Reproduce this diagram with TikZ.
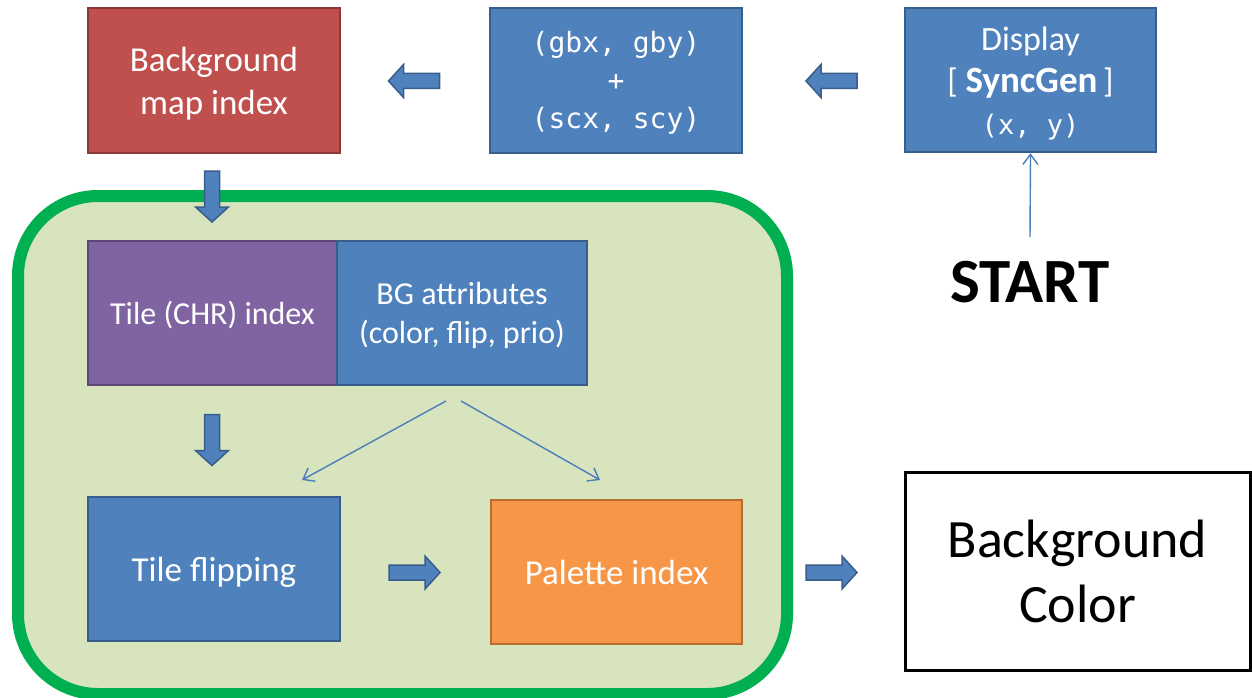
\documentclass[tikz,border=0pt]{standalone}
\usepackage{fontspec}
\setmainfont{Carlito}
\newfontfamily\monof{DejaVu Sans Mono}
\usetikzlibrary{arrows.meta}
\newcommand\mystrut{\rule[-0.25em]{0pt}{1.2em}}
\definecolor{bfill}{HTML}{4F81BD}
\definecolor{bdraw}{HTML}{385D8A}
\definecolor{rfill}{HTML}{C0504D}
\definecolor{rdraw}{HTML}{8C3836}
\definecolor{pfill}{HTML}{8064A2}
\definecolor{pdraw}{HTML}{5C4776}
\definecolor{ofill}{HTML}{F79646}
\definecolor{odraw}{HTML}{B66D31}
\definecolor{gline}{HTML}{00B050}
\definecolor{gfill}{HTML}{D7E4BD}
\definecolor{tcol}{HTML}{4A7EBB}
\tikzset{
  box/.style={rectangle, line width=2.5pt, text=white, align=center, inner sep=0pt,
    font=\fontsize{35}{43}\selectfont},
  bluebox/.style={box, fill=bfill, draw=bdraw},
  redbox/.style={box, fill=rfill, draw=rdraw},
  purplebox/.style={box, fill=pfill, draw=pdraw},
  orangebox/.style={box, fill=ofill, draw=odraw},
  thinarr/.style={draw=tcol, line width=1.4pt, -{Straight Barb[length=10pt,width=15pt]}},
  fatarrow/.pic={\draw[fill=bfill, draw=bdraw, line width=1.5pt]
    (-25.5,-7.5) -- (10.5,-7.5) -- (10.5,-16.5) -- (25.5,0) -- (10.5,16.5)
    -- (10.5,7.5) -- (-25.5,7.5) -- cycle;}
}
\begin{document}
\begin{tikzpicture}[x=1pt,y=-1pt]
\useasboundingbox (0,0) rectangle (1252,698);
% group frame
\draw[draw=gline, fill=gfill, line width=12pt, rounded corners=80pt] (18,196) rectangle (787,694);
% top row
\node[redbox, minimum width=252pt, minimum height=145pt] (bgmap) at (214,80.5) {\mystrut Background\\map index\mystrut};
\node[bluebox, minimum width=252pt, minimum height=145pt,
  font=\monof\fontsize{28}{38}\selectfont] (gbx) at (616,80.5) {\rule{0pt}{26pt}(gbx, gby)\\+\\(scx, scy)};
\node[bluebox, minimum width=251pt, minimum height=144pt,
  font=\fontsize{34}{42}\selectfont] (disp) at (1030.5,80)
  {\mystrut Display\\{[} {\fontsize{37}{42}\selectfont\bfseries SyncGen}\,]\\{\monof\fontsize{27}{42}\selectfont (x, y)\mystrut}};
\node[inner sep=0pt, font=\fontsize{63}{70}\selectfont\bfseries] (start) at (1030,282.5) {START};
\coordinate (sa) at (1030,237);
\draw[thinarr] (sa) -- (disp.south);
% inside frame
\node[purplebox, minimum width=249pt, minimum height=144pt,
  font=\fontsize{32}{39}\selectfont] (tile) at (212.5,313) {\mystrut Tile (CHR) index};
\node[bluebox, minimum width=250pt, minimum height=144pt,
  font=\fontsize{32}{39}\selectfont] (attr) at (462,313) {\mystrut BG attributes\\(color, flip, prio)\mystrut};
\node[bluebox, minimum width=252pt, minimum height=144pt] (flip) at (214,569) {\mystrut Tile flipping};
\node[orangebox, minimum width=251pt, minimum height=144pt] (pal) at (616.5,572) {\mystrut Palette index};
\node[rectangle, draw=black, fill=white, line width=3pt, minimum width=345pt, minimum height=198pt,
  align=center, inner sep=0pt, font=\fontsize{54}{65}\selectfont] (bgcol) at (1077.5,571) {Background\\Color};
\coordinate (s1) at (446,401);
\coordinate (s2) at (461,401);
\coordinate (e1) at (302,480);
\coordinate (e2) at (600,480);
\draw[thinarr] (s1) -- (e1);
\draw[thinarr] (s2) -- (e2);
% block arrows
\pic[rotate=180] (a1) at (414,81) {fatarrow};
\pic[rotate=180] (a2) at (831.5,81) {fatarrow};
\pic[rotate=-90] (d1) at (212,196.5) {fatarrow};
\pic[rotate=-90] (d2) at (212,440) {fatarrow};
\pic (r1) at (414.5,572.5) {fatarrow};
\pic (r2) at (831.5,572.5) {fatarrow};
\end{tikzpicture}
\end{document}
